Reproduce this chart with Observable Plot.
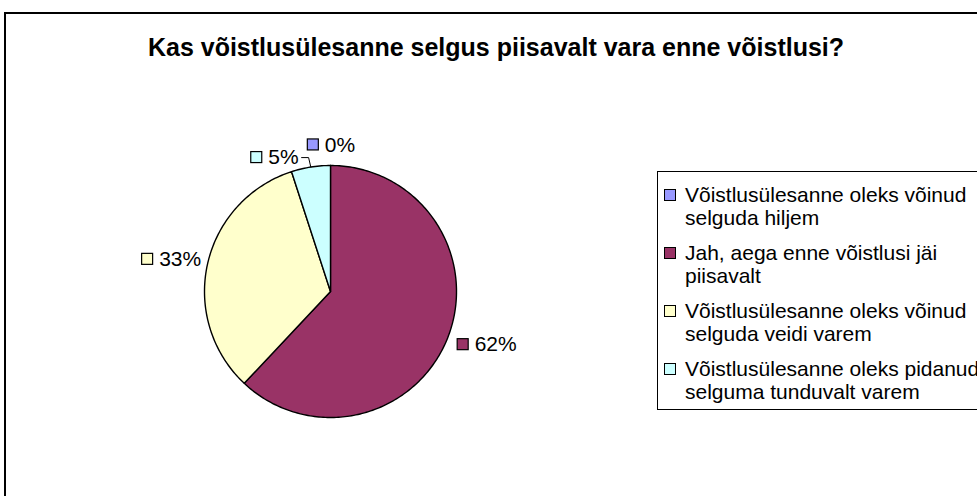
<!DOCTYPE html>
<html>
<head>
<meta charset="utf-8">
<script src="https://cdn.jsdelivr.net/npm/d3@7"></script>
<script src="https://cdn.jsdelivr.net/npm/@observablehq/plot@0.6"></script>
<style>
  html, body { margin: 0; padding: 0; background: #fff; width: 977px; height: 496px; overflow: hidden; position: relative; }
  #frame { position: absolute; left: 4px; top: 12px; width: 1010px; height: 500px; border: 2px solid #000; box-sizing: border-box; }
  #title { position: absolute; left: 0; top: 32px; width: 992px; text-align: center; font: bold 25px "Liberation Sans", Arial, sans-serif; line-height: 30px; color: #000; white-space: nowrap; }
  #chart { position: absolute; left: 0; top: 0; }
  #legend { position: absolute; left: 657px; top: 171px; width: 400px; height: 239px; border: 1px solid #000; box-sizing: border-box; background: #fff; padding-top: 11px; font: 21px "Liberation Sans", Arial, sans-serif; }
  .item { position: relative; padding-left: 27px; width: 325px; line-height: 23px; margin-bottom: 12px; color: #000; }
  .sw { position: absolute; left: 6px; top: 6px; width: 12px; height: 12px; border: 1px solid #000; box-sizing: border-box; }
</style>
</head>
<body>
<div id="frame"></div>
<div id="title"></div>
<div id="chart"></div>
<div id="legend"></div>
<script>
// ---- data ----
const title = "Kas võistlusülesanne selgus piisavalt vara enne võistlusi?";
const categories = [
  "Võistlusülesanne oleks võinud selguda hiljem",
  "Jah, aega enne võistlusi jäi piisavalt",
  "Võistlusülesanne oleks võinud selguda veidi varem",
  "Võistlusülesanne oleks pidanud selguma tunduvalt varem"
];
const shares = [0, 62, 33, 5];
const percentLabels = ["0%", "62%", "33%", "5%"];
const colors = ["#9999FF", "#993366", "#FFFFCC", "#CCFFFF"];

// ---- layout ----
const W = 977, H = 496;
const cx = 330, cy = 291, R = 126;
const u = 1 / R;                  // data units per pixel
const labelFontSize = 21;
const fontFamily = '"Liberation Sans", Arial, sans-serif';
const labelNudge = [[1, -13], [3, 4], [1, -3], [-11, -2]]; // px, Excel-like collision nudges

document.getElementById("title").textContent = title;

const arcs = d3.pie().sort(null).value(d => d)(shares);

// slice polygons
const slices = arcs.map((a, i) => {
  const pts = [{x: 0, y: 0}];
  const span = a.endAngle - a.startAngle;
  const n = Math.max(1, Math.ceil(span / (Math.PI / 180)));
  for (let k = 0; k <= n; k++) {
    const t = a.startAngle + span * k / n;
    pts.push({x: Math.sin(t), y: Math.cos(t)});
  }
  pts.push({x: 0, y: 0});
  return pts;
});

// label layout
const ctx = document.createElement("canvas").getContext("2d");
ctx.font = `${labelFontSize}px ${fontFamily}`;
const sw = 11, textGap = 17;
const labels = arcs.map((a, i) => {
  const m = (a.startAngle + a.endAngle) / 2;
  const s = Math.sin(m);
  const ax = 1.06 * Math.sin(m), ay = 1.06 * Math.cos(m);
  const tw = ctx.measureText(percentLabels[i]).width;
  const G = textGap + tw;
  let left;
  if (s >= 0.05) left = ax;
  else if (s <= -0.05) left = ax - G * u;
  else left = ax - G * u / 2;
  left += labelNudge[i][0] * u;
  const yc = ay - labelNudge[i][1] * u;
  return {i, m, left, right: left + G * u, yc, label: percentLabels[i], nudged: Math.abs(labelNudge[i][0]) > 5};
});

const leaders = labels.filter(d => d.nudged).map(d => [
  {x: Math.sin(d.m), y: Math.cos(d.m)},
  {x: d.right + 10 * u, y: d.yc},
  {x: d.right + 3 * u, y: d.yc}
]);

const marks = [];
slices.forEach((pts, i) => {
  marks.push(Plot.line(pts, {x: "x", y: "y", fill: colors[i], stroke: "#000", strokeWidth: 1.4, strokeLinejoin: "round"}));
});
leaders.forEach(pts => marks.push(Plot.line(pts, {x: "x", y: "y", stroke: "#000", strokeWidth: 1})));
marks.push(Plot.rect(labels, {
  x1: d => d.left, x2: d => d.left + sw * u,
  y1: d => d.yc - sw / 2 * u, y2: d => d.yc + sw / 2 * u,
  fill: d => colors[d.i], stroke: "#000", strokeWidth: 1.2
}));
marks.push(Plot.text(labels, {
  x: d => d.left + textGap * u, y: "yc", text: "label",
  textAnchor: "start", lineAnchor: "middle", fontSize: labelFontSize, fill: "#000"
}));

const plot = Plot.plot({
  width: W, height: H, margin: 0,
  x: {domain: [-1, 1], range: [cx - R, cx + R], axis: null},
  y: {domain: [-1, 1], range: [cy + R, cy - R], axis: null},
  style: {fontFamily: fontFamily, background: "transparent", overflow: "visible"},
  marks
});
document.getElementById("chart").appendChild(plot);

// legend
const legend = d3.select("#legend");
const items = legend.selectAll("div.item").data(categories).join("div").attr("class", "item");
items.append("div").attr("class", "sw").style("background", (d, i) => colors[i]);
items.append("span").text(d => d);
</script>
</body>
</html>
